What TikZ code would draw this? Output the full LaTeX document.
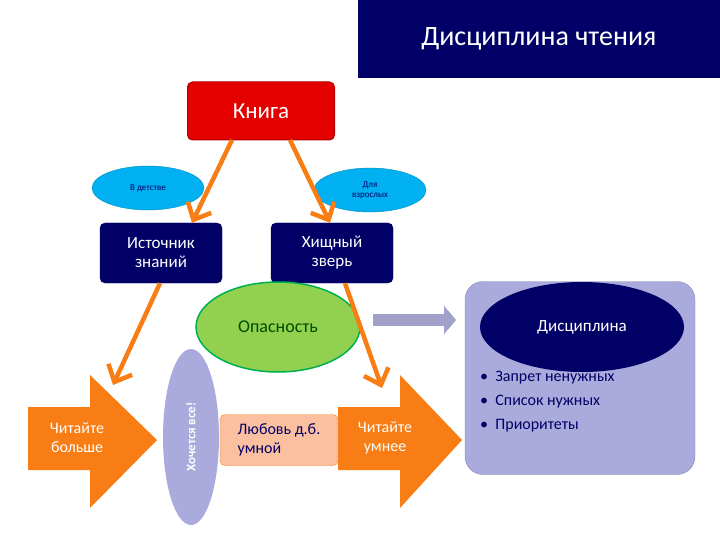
\documentclass[tikz,border=0pt]{standalone}
\usepackage{fontspec}
\setmainfont{Carlito}
\usetikzlibrary{arrows.meta,shapes.geometric}
\definecolor{navy}{RGB}{0,0,102}
\definecolor{ora}{RGB}{247,125,20}
\definecolor{cy}{RGB}{0,176,240}
\definecolor{lav}{RGB}{170,170,220}
\definecolor{gr}{RGB}{146,208,80}
\definecolor{dgr}{RGB}{0,176,80}
\definecolor{pink}{RGB}{250,192,160}
\tikzset{
 navbox/.style={draw=navy,fill=navy,rounded corners=5pt,text=white,font=\fontsize{17}{19}\selectfont,align=center,minimum width=122pt,minimum height=60pt,inner sep=0pt},
 oval/.style={ellipse,fill=cy,draw=cy!80!black,text=navy,font=\fontsize{9}{10}\selectfont,align=center,minimum width=112pt,minimum height=44pt,inner sep=0pt},
 oarr/.style={draw=ora,line width=4.5pt,-{Straight Barb[length=14pt,width=26pt,line width=4.5pt]}},
 bigarrow/.style={fill=ora},
 wt/.style={text=white,font=\fontsize{16}{19}\selectfont,align=center}
}
\begin{document}
\begin{tikzpicture}[x=1pt,y=-1pt]
\useasboundingbox (0,0) rectangle (720,540);
\node[fill=navy,minimum width=362pt,minimum height=78pt,anchor=north east,inner sep=0pt,text=white,font=\fontsize{28}{30}\selectfont] (title) at (720,0) {Дисциплина чтения};
\node[fill=red!90!black,draw=red!70!black,line width=1pt,rounded corners=5pt,minimum width=147pt,minimum height=58pt,text=white,font=\fontsize{23}{25}\selectfont] (kniga) at (261,111) {Книга};
\node[oval] (det) at (148,188) {В детстве};
\node[oval] (vzr) at (370,190) {Для\\взрослых};
\node[navbox] (ist) at (161,253) {Источник\\знаний};
\node[navbox] (hish) at (332,253) {Хищный\\зверь};
\coordinate (k1) at (232,140); \coordinate (k2) at (290,140);
\draw[oarr] (k1) -- (ist.north east -| 192,0);
\draw[oarr] (k2) -- (hish.north -| 330,0);
% discipline panel
\node[fill=lav,draw=lav!80!black,rounded corners=18pt,minimum width=230pt,minimum height=193pt,inner sep=0pt] (panel) at (580,378) {};
\node[ellipse,fill=navy,minimum width=204pt,minimum height=90pt,text=white,font=\fontsize{17}{19}\selectfont] (disc) at (582,327) {Дисциплина};
\node[anchor=north west,text=navy,font=\fontsize{16}{24}\selectfont,align=left,inner sep=0pt] (list) at (480,371) {•\ \ Запрет ненужных\\•\ \ Список нужных\\•\ \ Приоритеты};
% opasnost
\node[ellipse,fill=gr,draw=dgr,line width=1.5pt,minimum width=164pt,minimum height=90pt,text=green!30!black,font=\fontsize{18}{20}\selectfont] (op) at (278,327) {Опасность};
\coordinate (ga) at (373,320); \coordinate (gb) at (456,320);
\draw[draw=lav!80!gray,line width=12pt,-{Triangle[length=12pt,width=28pt]}] (ga) -- (gb);
% big arrows
\fill[ora] (28,407) -- (90,407) -- (90,375) -- (157,440) -- (90,508) -- (90,470) -- (28,470) -- cycle;
\node[wt] (more) at (77,438) {Читайте\\больше};
\fill[ora] (338,407) -- (400,407) -- (400,375) -- (462,440) -- (400,508) -- (400,470) -- (338,470) -- cycle;
\node[wt] (smart) at (385,438) {Читайте\\умнее};
\node[ellipse,fill=lav,minimum width=56pt,minimum height=176pt,inner sep=0pt] (want) at (191,437) {};
\node[rotate=90,text=white,font=\bfseries\fontsize{13}{15}\selectfont] (wantt) at (191,437) {Хочется все!};
\node[fill=pink,draw=ora,rounded corners=5pt,minimum width=118pt,minimum height=51pt,text=navy,align=left,font=\fontsize{16}{19}\selectfont] (love) at (279,440) {Любовь д.б.\\умной};
\coordinate (l1) at (160,285); \coordinate (l2) at (113,385);
\coordinate (r1) at (345,285); \coordinate (r2) at (382,388);
\draw[oarr] (ist.south) ++(-1,0) coordinate (is) (is) -- (l2);
\draw[oarr] (hish.south) ++(13,0) coordinate (hs) (hs) -- (r2);
\end{tikzpicture}
\end{document}
